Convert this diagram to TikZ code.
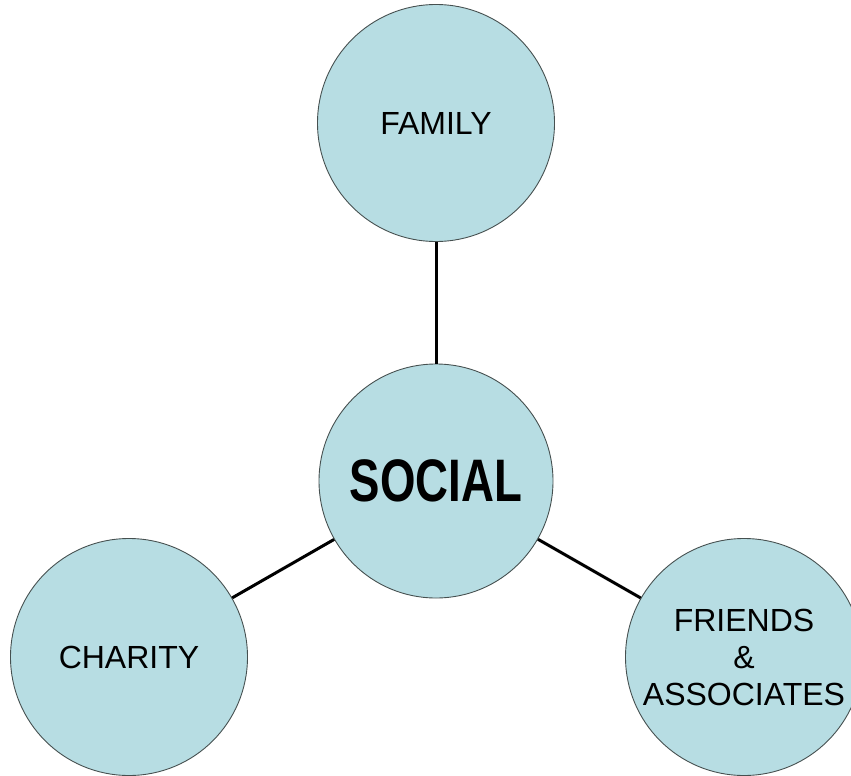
\documentclass[tikz,border=0pt]{standalone}
\usepackage{fontspec}
\setmainfont{Liberation Sans}
\usepackage{graphicx}
\usepackage{xcolor}
\usepackage{tikz}
\usetikzlibrary{positioning}
\definecolor{sociallight}{RGB}{183, 221, 227}
\definecolor{socialrim}{RGB}{70, 80, 80}

\begin{document}
\begin{tikzpicture}[
    x=1pt, y=-1pt,
    link/.style={draw, line width=3pt, black},
    every node/.style={draw=socialrim, line width=0.9pt, circle, fill=sociallight, inner sep=0pt, minimum size=237pt, align=center, font=\fontsize{32}{37}\selectfont}
]
    \clip (0,0) rectangle (851,776);
    \node (social) at (436,481) [minimum size=234pt, font=\fontsize{60}{62}\selectfont\bfseries] {\scalebox{0.76}[1]{SOCIAL}};
    \node (family) at (436,123) {FAMILY};
    \node (charity) at (129,657) {CHARITY};
    \node (friends) at (744,657) {FRIENDS\\\&\\ASSOCIATES};
    \draw[link] (social) -- (family);
    \draw[link] (social) -- (charity);
    \draw[link] (social) -- (friends);
\end{tikzpicture}
\end{document}
